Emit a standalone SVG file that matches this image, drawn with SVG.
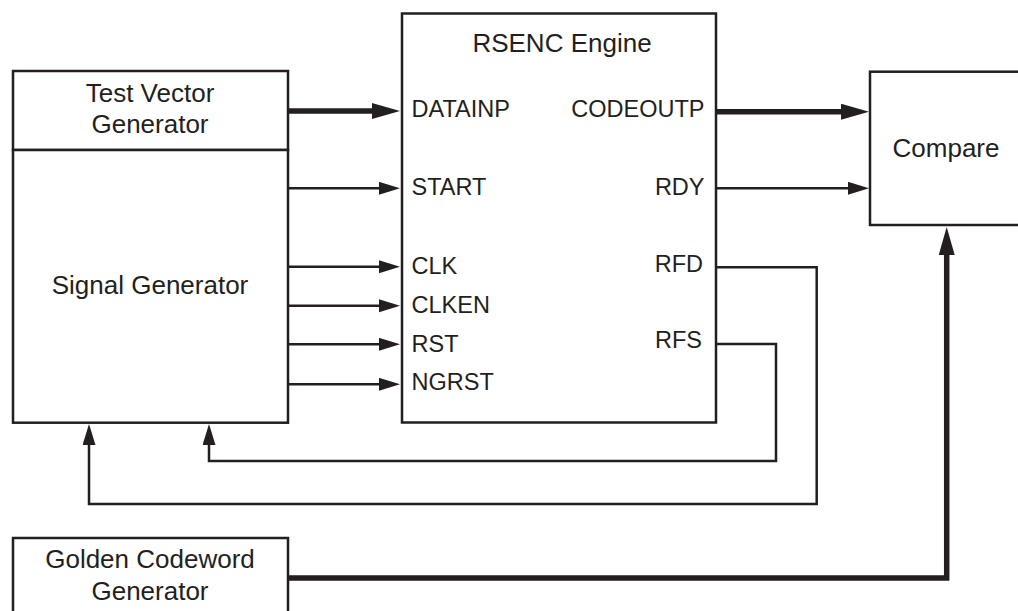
<svg xmlns="http://www.w3.org/2000/svg" width="1018" height="611" viewBox="0 0 1018 611">
<style>
.box{fill:#fff;stroke:#231f20;stroke-width:2.5}
.t{font-family:"Liberation Sans",Arial,Helvetica,sans-serif;fill:#231f20}
.title{font-size:26px}
.port{font-size:23.5px}
.w{fill:none;stroke:#231f20;stroke-width:2.5}
.thick{fill:none;stroke:#231f20;stroke-width:5.5}
</style>
<defs>
<marker id="ah" markerUnits="userSpaceOnUse" markerWidth="22" markerHeight="14" refX="9" refY="6.5" orient="auto">
<path d="M0,0 L21,6.5 L0,13 z" fill="#231f20"/>
</marker>
<marker id="ahk" markerUnits="userSpaceOnUse" markerWidth="29" markerHeight="17" refX="14" refY="8" orient="auto">
<path d="M0,0 L28,8 L0,16 z" fill="#231f20"/>
</marker>
</defs>
<rect width="1018" height="611" fill="#fff"/>
<g id="connectors">
<line class="thick" x1="288" y1="111" x2="386" y2="111" marker-end="url(#ahk)"/>
<line class="w" x1="288" y1="188.3" x2="388" y2="188.3" marker-end="url(#ah)"/>
<line class="w" x1="288" y1="266.7" x2="388" y2="266.7" marker-end="url(#ah)"/>
<line class="w" x1="288" y1="305.7" x2="388" y2="305.7" marker-end="url(#ah)"/>
<line class="w" x1="288" y1="344.3" x2="388" y2="344.3" marker-end="url(#ah)"/>
<line class="w" x1="288" y1="384.3" x2="388" y2="384.3" marker-end="url(#ah)"/>
<line class="thick" x1="716" y1="111.7" x2="855" y2="111.7" marker-end="url(#ahk)"/>
<line class="w" x1="716" y1="188.3" x2="857" y2="188.3" marker-end="url(#ah)"/>
<polyline class="w" points="716,267.3 816.7,267.3 816.7,504 89,504 89,436" marker-end="url(#ah)"/>
<polyline class="w" points="716,344 776,344 776,461 209,461 209,436" marker-end="url(#ah)"/>
<polyline class="thick" points="288,578 946.7,578 946.7,241" marker-end="url(#ahk)"/>
</g>
<g id="rsenc">
<rect class="box" x="402" y="13.5" width="314" height="409"/>
<text class="t title" x="562" y="52.3" text-anchor="middle">RSENC Engine</text>
<text class="t port" x="411.5" y="117.3">DATAINP</text>
<text class="t port" x="411.5" y="195">START</text>
<text class="t port" x="411.5" y="274">CLK</text>
<text class="t port" x="411.5" y="312.7">CLKEN</text>
<text class="t port" x="411.5" y="351.7">RST</text>
<text class="t port" x="411.5" y="390">NGRST</text>
<text class="t port" x="704.5" y="117.3" text-anchor="end">CODEOUTP</text>
<text class="t port" x="704.5" y="195" text-anchor="end">RDY</text>
<text class="t port" x="703" y="271.7" text-anchor="end">RFD</text>
<text class="t port" x="702" y="348.3" text-anchor="end">RFS</text>
</g>
<g id="test-vector-generator">
<rect class="box" x="13" y="71" width="275" height="79"/>
<text class="t title" x="150" y="101.7" text-anchor="middle">Test Vector</text>
<text class="t title" x="150" y="133.3" text-anchor="middle">Generator</text>
</g>
<g id="signal-generator">
<rect class="box" x="13" y="150" width="275" height="272.7"/>
<text class="t title" x="150" y="294" text-anchor="middle">Signal Generator</text>
</g>
<g id="compare">
<rect class="box" x="870" y="71.7" width="160" height="153.3"/>
<text class="t title" x="946" y="156.7" text-anchor="middle">Compare</text>
</g>
<g id="golden-codeword-generator">
<rect class="box" x="13" y="538" width="275" height="85"/>
<text class="t title" x="150" y="568.3" text-anchor="middle">Golden Codeword</text>
<text class="t title" x="150" y="600" text-anchor="middle">Generator</text>
</g>
</svg>
